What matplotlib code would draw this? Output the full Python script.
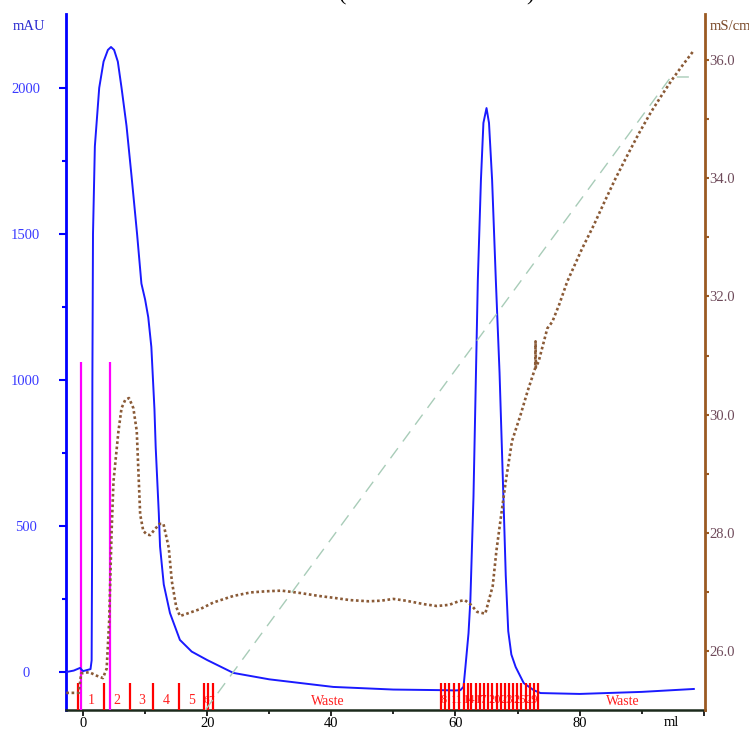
import matplotlib
matplotlib.use("Agg")
import matplotlib.pyplot as plt
import matplotlib.transforms as mtransforms

# UV absorbance (mAU) vs volume (ml)
uv_ml = [-2.7, -1.5, -0.5, 0.0, 0.5, 1.2, 1.38, 1.45, 1.5, 1.6, 1.9, 2.6, 3.3, 4.0, 4.5,
         5.0, 5.6, 6.2, 7.0, 7.8, 8.7, 9.4, 10.0, 10.5, 11.0, 11.5, 11.7, 12.2, 12.4,
         13.0, 14.0, 15.6, 17.5, 20.0, 24.2, 30.0, 40.3, 50.0, 57.6, 60.0, 60.8, 61.3,
         61.6, 62.1, 62.4, 62.9, 63.3, 63.6, 64.1, 64.5, 65.0, 65.4, 65.9, 66.5, 67.1,
         67.5, 67.8, 68.1, 68.5, 69.0, 69.7, 71.0, 72.6, 73.7, 80.0, 90.0, 98.4]
uv_mau = [0, 5, 14, 3, 6, 10, 40, 400, 1000, 1500, 1800, 2000, 2090, 2130, 2140,
          2130, 2090, 2000, 1870, 1700, 1500, 1330, 1275, 1215, 1113, 900, 770, 544, 430,
          300, 202, 110, 70, 41, -3, -25, -51, -60, -62, -63, -62, -50,
          17, 133, 247, 600, 1024, 1342, 1685, 1880, 1931, 1880, 1685, 1342, 1024,
          750, 544, 330, 140, 60, 17, -38, -62, -72, -75, -68, -58]

# conductivity (mS/cm)
cond_ml = [-2.7, -0.7, -0.3, 1.0, 2.2, 3.2, 3.8, 4.2, 4.6, 4.9, 5.7, 6.2, 6.8, 7.4,
           8.1, 8.65, 9.2, 9.7, 10.3, 10.8, 11.5, 12.3, 12.95, 13.8, 14.3, 15.0, 15.6,
           17.0, 18.9, 21.0, 24.2, 27.0, 29.6, 32.0, 35.0, 38.0, 40.3, 43.0, 46.0, 48.0,
           50.0, 52.0, 55.0, 57.0, 59.0, 60.5, 61.5, 62.5, 63.5, 64.8, 66.0, 66.6, 67.3,
           68.1, 69.1, 70.5, 71.6, 72.85, 72.9, 72.95, 73.4, 74.8, 75.6, 76.7, 78.0,
           80.4, 82.3, 84.0, 85.8, 87.7, 89.5, 91.5, 93.2, 94.9, 96.5, 98.3]
cond_ms = [25.29, 25.29, 25.62, 25.64, 25.58, 25.54, 25.70, 26.50, 28.03, 28.87, 29.72,
           30.11, 30.25, 30.28, 30.11, 29.72, 28.31, 28.03, 27.97, 27.96, 28.05, 28.15,
           28.15, 27.75, 27.18, 26.75, 26.59, 26.64, 26.71, 26.82, 26.93, 26.99, 27.01,
           27.02, 26.98, 26.93, 26.90, 26.86, 26.84, 26.85, 26.88, 26.85, 26.79, 26.76,
           26.78, 26.84, 26.86, 26.78, 26.66, 26.63, 27.10, 27.70, 28.25, 28.87, 29.55,
           30.00, 30.39, 30.79, 31.24, 30.80, 30.90, 31.46, 31.57, 31.86, 32.25, 32.81,
           33.21, 33.60, 34.00, 34.39, 34.75, 35.12, 35.40, 35.67, 35.90, 36.15]

# gradient (%B)
grad_ml = [19.7, 94.7, 97.6]
grad_pct = [0, 100, 100]

# injection marks
inject_ml = [-0.4, 4.35]

# fraction marks and labels
frac_left = [-0.75, 3.4, 7.5, 11.3, 15.5, 19.5, 20.2, 20.95]
frac_left_labels = ["1", "2", "3", "4", "5", "6", "7"]
frac_right = [57.74, 58.39, 59.03, 59.84, 60.53, 61.34, 61.98, 62.53, 63.23, 63.87,
              64.56, 65.21, 65.92, 66.61, 67.26, 67.90, 68.60, 69.24, 69.95, 70.60,
              71.29, 71.94, 72.63, 73.27]
frac_right_first = 8
frac_right_shown = ["8", "11", "14", "17", "20", "23", "26", "29"]
waste_ml = [39.5, 87.0]

W, H = 749, 729
fig = plt.figure(figsize=(W / 100, H / 100), dpi=100)
ax = fig.add_axes([66 / W, 19 / H, (705 - 66) / W, (710 - 14) / H])
serif = "Liberation Serif"

# left axis: UV
ax.plot(uv_ml, uv_mau, color="#1a1aff", lw=1.4, zorder=4)
ax.set_xlim(-2.75, 100.2)
ax.set_ylim(-130, 2253)
ax.set_yticks([0, 500, 1000, 1500, 2000])
ax.set_yticks([250, 750, 1250, 1750], minor=True)
ax.set_xticks([0, 20, 40, 60, 80, 100])
ax.set_xticklabels(["0", "20", "40", "60", "80", ""])
ax.set_xticks([10, 30, 50, 70, 90], minor=True)
ax.tick_params(axis="y", which="major", length=5, width=1.5, color="#0000ff",
               labelcolor="#3a3aff", labelsize=10.5, pad=24)
ax.tick_params(axis="y", which="minor", length=3, width=1.5, color="#0000ff")
ax.tick_params(axis="x", which="major", length=4, width=1.2, labelsize=10.5, pad=1)
ax.tick_params(axis="x", which="minor", length=3, width=1.2)
for lab in ax.get_yticklabels():
    lab.set_horizontalalignment("center")
    lab.set_family(serif)
for lab in ax.get_xticklabels():
    lab.set_family(serif)
ax.spines["top"].set_visible(False)
ax.spines["right"].set_visible(False)
ax.spines["left"].set_color("#0000ff")
ax.spines["left"].set_linewidth(2)
ax.spines["bottom"].set_color("#1c2a1c")
ax.spines["bottom"].set_linewidth(1.8)

# injection marks (magenta)
ax.vlines(inject_ml, -130, 1062, color="#ff00ff", lw=1.6, zorder=3)

# fraction marks (red)
trans = mtransforms.blended_transform_factory(ax.transData, ax.transAxes)
ax.vlines(frac_left + frac_right, 0, 0.039, color="#ff0000", lw=1.6, transform=trans, zorder=5)
for i, lab in enumerate(frac_left_labels):
    xc = (frac_left[i] + frac_left[i + 1]) / 2
    fs = 10 if i < 5 else 8
    ax.text(xc, 0.014, lab, transform=trans, color="#ff2020", fontsize=fs,
            family=serif, ha="center", va="center", zorder=4)
for lab in frac_right_shown:
    i = int(lab) - frac_right_first
    xc = (frac_right[i] + frac_right[i + 1]) / 2
    ax.text(xc, 0.014, lab, transform=trans, color="#ff2020", fontsize=9,
            family=serif, ha="center", va="center", zorder=4)
for xw in waste_ml:
    ax.text(xw, 0.012, "Waste", transform=trans, color="#ff2020", fontsize=10,
            family=serif, ha="center", va="center")

# right axis: conductivity
ax2 = ax.twinx()
ax2.plot(cond_ml, cond_ms, color="#8a5a36", lw=1.9, ls=(0, (1, 1)), zorder=3)
ax2.set_ylim(25.0, 36.78)
ax2.set_yticks([26, 28, 30, 32, 34, 36])
ax2.set_yticklabels(["26.0", "28.0", "30.0", "32.0", "34.0", "36.0"], family=serif)
ax2.set_yticks([27, 29, 31, 33, 35], minor=True)
ax2.tick_params(axis="y", which="major", length=3, width=1.5, color="#9a5a22",
                labelcolor="#6e4a5a", labelsize=10.5, pad=0)
ax2.tick_params(axis="y", which="minor", length=3, width=1.5, color="#9a5a22")
for s in ["top", "left", "bottom"]:
    ax2.spines[s].set_visible(False)
ax2.spines["right"].set_color("#9a5a22")
ax2.spines["right"].set_linewidth(2)

# gradient (hidden scale)
ax3 = ax.twinx()
ax3.plot(grad_ml, grad_pct, color="#a8ccb8", lw=1.0, ls=(0, (9, 6)), zorder=2)
ax3.set_ylim(0, 109.95)
ax3.axis("off")

# axis unit labels
fig.text(13 / W, 1 - 27 / H, "mAU", color="#2a2ad0", fontsize=10.5, family=serif,
         ha="left", va="center")
fig.text(710 / W, 1 - 27 / H, "mS/cm", color="#7a4a2a", fontsize=10.5, family=serif,
         ha="left", va="center")
fig.text(671 / W, 1 - 722 / H, "ml", color="black", fontsize=10.5, family=serif,
         ha="center", va="center")

# clipped title remnants
fig.text(343 / W, 1.0, "(", fontsize=16, family=serif, ha="center", va="baseline")
fig.text(530 / W, 1.0, ")", fontsize=16, family=serif, ha="center", va="baseline")

fig.savefig("out.png", dpi=100)
